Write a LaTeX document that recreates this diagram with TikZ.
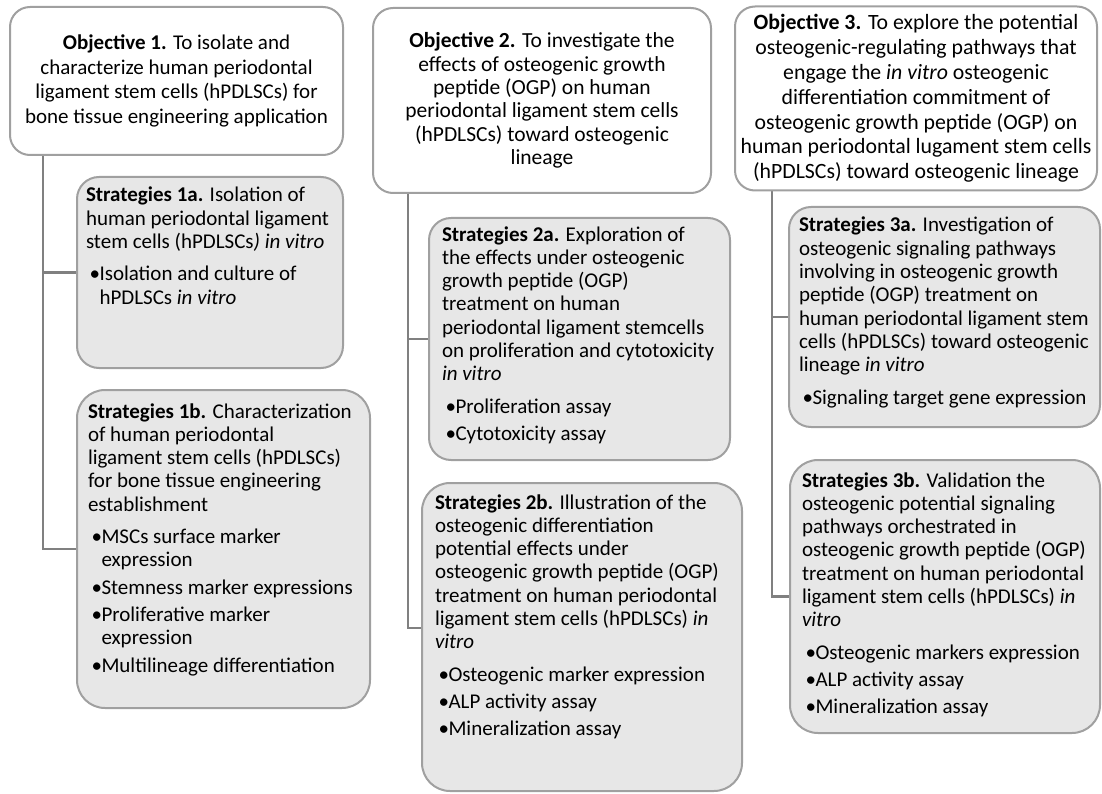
\documentclass[tikz,border=0pt]{standalone}
\usepackage{fontspec}
\setmainfont{Carlito}
\usetikzlibrary{backgrounds}
\definecolor{bordc}{RGB}{160,160,160}
\definecolor{connc}{RGB}{128,128,128}
\definecolor{fillc}{RGB}{231,231,231}
\newcommand{\sbody}[3]{\makebox[#1][l]{\parbox[t][#2][t]{600pt}{\raggedright\parindent=0pt\fontsize{21}{23.3}\selectfont #3}}}
\newcommand{\fl}[1]{\rule{0pt}{#1}}
\newcommand{\blt}[2]{\par\vspace{#1}\noindent\hspace*{3.5pt}\makebox[10pt][l]{\textbullet}#2}
\newcommand{\cont}{\hspace*{13.5pt}}
\newcommand{\objtwofont}{\fontsize{21.5}{23.4}\selectfont}
\tikzset{
  objbox/.style={draw=bordc, line width=2pt, fill=white, rounded corners=20pt, align=center, inner sep=0pt},
  sbox/.style={draw=bordc, line width=2pt, fill=fillc, rounded corners=22pt, anchor=north west, inner ysep=0pt, outer sep=0pt},
  sboxb/.style={sbox, rounded corners=28pt},
  conn/.style={draw=connc, line width=2.5pt}
}
\begin{document}
\begin{tikzpicture}[x=1pt,y=-1pt]
\useasboundingbox (0,0) rectangle (1102,794);
% objectives
\node[objbox, minimum width=333pt, minimum height=148pt, font=\fontsize{21}{24.4}\selectfont] (O1) at (176.5,81)
 {\textbf{Objective 1.} To isolate and\\ characterize human periodontal\\ ligament stem cells (hPDLSCs) for\\ bone tissue engineering application};
\node[objbox, minimum width=338pt, minimum height=185pt, font=\objtwofont] (O2) at (542,100.5)
 {\textbf{Objective 2.} To investigate the\\ effects of osteogenic growth\\ peptide (OGP) on human\\ periodontal ligament stem cells\\ (hPDLSCs) toward osteogenic\\ lineage};
\node[objbox, minimum width=362pt, minimum height=184pt, font=\fontsize{21.8}{24.8}\selectfont] (O3) at (916,98.5)
 {\textbf{Objective 3.} To explore the potential\\ osteogenic-regulating pathways that\\ engage the \textit{in vitro} osteogenic\\ differentiation commitment of\\ osteogenic growth peptide (OGP) on\\ human periodontal lugament stem cells\\ (hPDLSCs) toward osteogenic lineage};
% strategies
\node[sbox, inner xsep=9pt] (S1a) at (77,177) {\sbody{248pt}{191pt}{\fl{25pt}\textbf{Strategies 1a.} Isolation of\\ human periodontal ligament\\ stem cells (hPDLSCs\textit{) in vitro}
 \blt{9pt}{Isolation and culture of\\ \cont hPDLSCs \textit{in vitro}}}};
\node[sboxb, inner xsep=11pt] (S1b) at (77,390) {\sbody{271pt}{318pt}{\fl{28pt}\textbf{Strategies 1b.} Characterization\\ of human periodontal\\ ligament stem cells (hPDLSCs)\\ for bone tissue engineering\\ establishment
 \blt{9pt}{MSCs surface marker\\ \cont expression}
 \blt{4pt}{Stemness marker expressions}
 \blt{4pt}{Proliferative marker\\ \cont expression}
 \blt{4pt}{Multilineage differentiation}}};
\node[sbox, inner xsep=13pt] (S2a) at (429,218) {\sbody{275pt}{242pt}{\fl{23pt}\textbf{Strategies 2a.} Exploration of\\ the effects under osteogenic\\ growth peptide (OGP)\\ treatment on human\\ periodontal ligament stemcells\\ on proliferation and cytotoxicity\\ \textit{in vitro}
 \blt{9pt}{Proliferation assay}
 \blt{4pt}{Cytotoxicity assay}}};
\node[sboxb, inner xsep=13pt] (S2b) at (422,483) {\sbody{294pt}{308pt}{\fl{26pt}\textbf{Strategies 2b.} Illustration of the\\ osteogenic differentiation\\ potential effects under\\ osteogenic growth peptide (OGP)\\ treatment on human periodontal\\ ligament stem cells (hPDLSCs) \textit{in}\\ \textit{vitro}
 \blt{9pt}{Osteogenic marker expression}
 \blt{4pt}{ALP activity assay}
 \blt{4pt}{Mineralization assay}}};
\node[sbox, inner xsep=10pt] (S3a) at (789,207) {\sbody{291pt}{220pt}{\fl{25pt}\textbf{Strategies 3a.} Investigation of\\ osteogenic signaling pathways\\ involving in osteogenic growth\\ peptide (OGP) treatment on\\ human periodontal ligament stem\\ cells (hPDLSCs) toward osteogenic\\ lineage \textit{in vitro}
 \blt{9pt}{Signaling target gene expression}}};
\node[sboxb, inner xsep=12pt] (S3b) at (790,460) {\sbody{286pt}{273pt}{\fl{27pt}\textbf{Strategies 3b.} Validation the\\ osteogenic potential signaling\\ pathways orchestrated in\\ osteogenic growth peptide (OGP)\\ treatment on human periodontal\\ ligament stem cells (hPDLSCs) \textit{in}\\ \textit{vitro}
 \blt{9pt}{Osteogenic markers expression}
 \blt{4pt}{ALP activity assay}
 \blt{4pt}{Mineralization assay}}};
% connectors
\coordinate (x1) at (43,0);
\coordinate (x2) at (408,0);
\coordinate (x3) at (772,0);
\begin{scope}[on background layer]
\draw[conn] (O1.south -| x1) |- (S1a.west);
\draw[conn] (O1.south -| x1) |- (S1b.west);
\draw[conn] (O2.south -| x2) |- (S2a.west);
\draw[conn] (O2.south -| x2) |- ([yshift=9pt]S2b.west);
\draw[conn] (O3.south -| x3) |- (S3a.west);
\draw[conn] (O3.south -| x3) |- (S3b.west);
\end{scope}
\end{tikzpicture}
\end{document}
